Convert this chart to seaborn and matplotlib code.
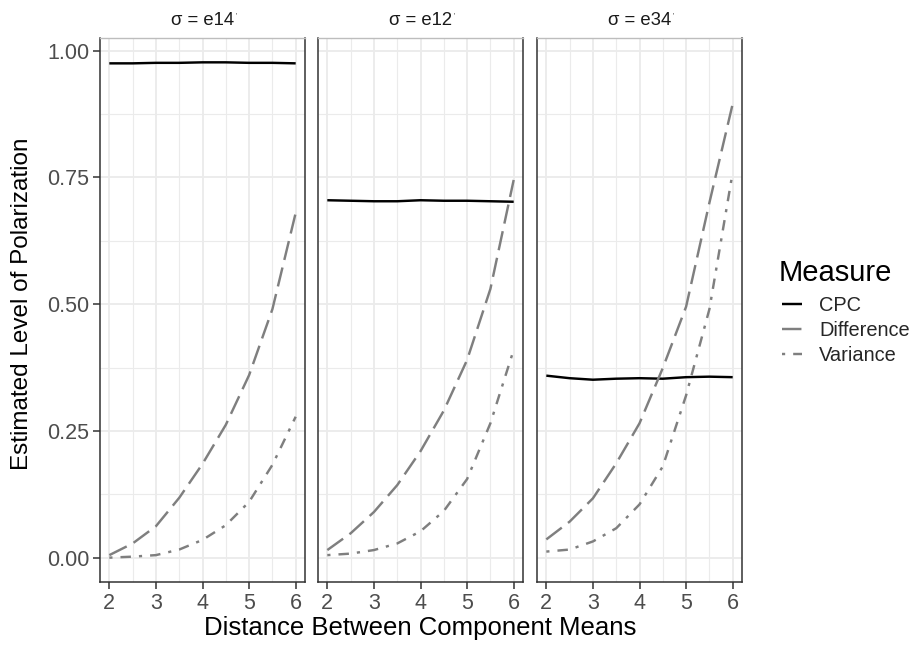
import numpy as np
import pandas as pd
import matplotlib
matplotlib.use("Agg")
import matplotlib.pyplot as plt
from matplotlib.lines import Line2D
import seaborn as sns

# ---------------- data ----------------
distance = [2.0, 2.5, 3.0, 3.5, 4.0, 4.5, 5.0, 5.5, 6.0]
panel_titles = ["e14", "e12", "e34"]
measures = ["CPC", "Difference", "Variance"]

cpc_e14 = [0.975, 0.975, 0.976, 0.976, 0.977, 0.977, 0.976, 0.976, 0.975]
diff_e14 = [0.005, 0.028, 0.062, 0.118, 0.185, 0.262, 0.360, 0.490, 0.680]
var_e14 = [0.000, 0.002, 0.005, 0.016, 0.035, 0.064, 0.110, 0.183, 0.278]

cpc_e12 = [0.705, 0.704, 0.703, 0.703, 0.705, 0.704, 0.704, 0.703, 0.702]
diff_e12 = [0.015, 0.048, 0.090, 0.143, 0.210, 0.290, 0.390, 0.530, 0.745]
var_e12 = [0.005, 0.008, 0.015, 0.028, 0.052, 0.092, 0.155, 0.265, 0.410]

cpc_e34 = [0.359, 0.354, 0.351, 0.353, 0.354, 0.353, 0.356, 0.357, 0.356]
diff_e34 = [0.036, 0.071, 0.117, 0.186, 0.265, 0.374, 0.495, 0.700, 0.895]
var_e34 = [0.012, 0.016, 0.032, 0.058, 0.105, 0.180, 0.320, 0.490, 0.760]

y_ticks = [0.00, 0.25, 0.50, 0.75, 1.00]
y_tick_labels = ["0.00", "0.25", "0.50", "0.75", "1.00"]
x_ticks = [2, 3, 4, 5, 6]

series = {
    "e14": (cpc_e14, diff_e14, var_e14),
    "e12": (cpc_e12, diff_e12, var_e12),
    "e34": (cpc_e34, diff_e34, var_e34),
}
rows = []
for p in panel_titles:
    for m, vals in zip(measures, series[p]):
        for x, v in zip(distance, vals):
            rows.append({"Panel": p, "Measure": m, "Distance": x, "Value": v})
df = pd.DataFrame(rows)

# ---------------- style ----------------
sns.set_theme(style="white")
plt.rcParams["font.family"] = ["Liberation Sans", "DejaVu Sans"]
plt.rcParams["lines.solid_capstyle"] = "butt"
plt.rcParams["lines.dash_capstyle"] = "butt"

palette = {"CPC": "black", "Difference": "#7f7f7f", "Variance": "#7f7f7f"}
dashes = {"CPC": "", "Difference": (8, 3.2), "Variance": (1.3, 3.3, 4.3, 3.3)}
LW = 1.75

W, H = 914, 647
fig = plt.figure(figsize=(W / 100, H / 100), dpi=100)
lefts = [100, 318, 537]
pw = 205
bottom_px, top_px = 582, 38
ph = bottom_px - top_px

grid_c = "#ebebeb"
axes = []
for i, (l, p) in enumerate(zip(lefts, panel_titles)):
    ax = fig.add_axes([l / W, (H - bottom_px) / H, pw / W, ph / H])
    axes.append(ax)
    sub = df[df["Panel"] == p]
    sns.lineplot(data=sub, x="Distance", y="Value", hue="Measure", style="Measure",
                 palette=palette, dashes=dashes, linewidth=LW, ax=ax,
                 legend=False, estimator=None, sort=True)
    ax.set_xlim(1.8, 6.2)
    ax.set_ylim(-0.048, 1.025)
    ax.set_xticks(x_ticks)
    ax.set_xticks([2.5, 3.5, 4.5, 5.5], minor=True)
    ax.set_yticks(y_ticks)
    ax.set_yticks([0.125, 0.375, 0.625, 0.875], minor=True)
    ax.grid(which="major", color=grid_c, linewidth=1.3, zorder=0)
    ax.grid(which="minor", color=grid_c, linewidth=0.8, zorder=0)
    ax.set_axisbelow(True)
    ax.tick_params(axis="both", which="major", length=4.8, width=1.1, color="#333333",
                   labelsize=15.5, labelcolor="#4d4d4d", pad=3.0, bottom=True, left=True)
    ax.tick_params(axis="both", which="minor", length=0)
    if i == 0:
        ax.set_yticklabels(y_tick_labels)
    else:
        ax.tick_params(axis="y", which="major", left=False, labelleft=False)
    ax.set_xlabel("")
    ax.set_ylabel("")
    for s in ["left", "right", "bottom"]:
        ax.spines[s].set_color("#333333")
        ax.spines[s].set_linewidth(1.1)
    ax.spines["top"].set_color("#bdbdbd")
    ax.spines["top"].set_linewidth(1.0)
    t = ax.text(0.5, 1 + 17.5 / ph, "σ = " + p, transform=ax.transAxes,
                ha="center", va="center", fontsize=13.3, color="#1a1a1a")
    ax.annotate("'", xy=(1.0, 0.95), xycoords=t, xytext=(1, 0), textcoords="offset points",
                fontsize=5, color="#1a1a1a", ha="left", va="top")

# legend (keys built from the same palette / dash styles)
handles = []
for m in measures:
    h = Line2D([], [], color=palette[m], linewidth=LW, linestyle="-")
    if dashes[m]:
        h.set_dashes(dashes[m])
    handles.append(h)
leg = fig.legend(handles, measures, loc="upper left", bbox_to_anchor=(782 / W, 1 - 296 / H),
                 fontsize=14.4, frameon=False,
                 handlelength=1.0, handletextpad=0.85, labelspacing=0.3,
                 borderaxespad=0, borderpad=0)
fig.text(779 / W, 1 - 273 / H, "Measure", ha="left", va="center",
         fontsize=21, color="black")

fig.text((100 + 741) / 2 / W, 1 - 628 / H, "Distance Between Component Means",
         ha="center", va="center", fontsize=18.5, color="black")
fig.text(22 / W, 1 - 304 / H, "Estimated Level of Polarization", rotation=90,
         ha="center", va="center", fontsize=17.5, color="black")

fig.savefig("out.png", dpi=100)
